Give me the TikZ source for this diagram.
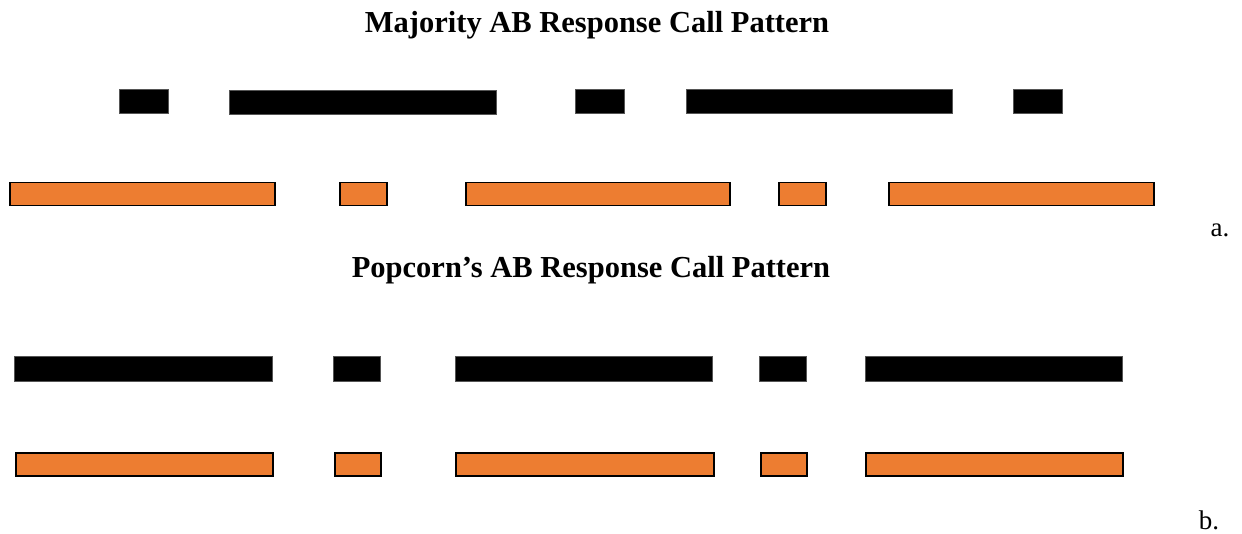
\documentclass[tikz,border=0pt]{standalone}
\usepackage{fontspec}
\setmainfont{Liberation Serif}
\definecolor{barorange}{HTML}{ED7D31}
\definecolor{bargray}{HTML}{555555}
\tikzset{
  blackbar/.style={draw=bargray, line width=0.8pt, fill=black, inner sep=0pt, minimum height=24pt},
  orangebar/.style={draw=black, line width=1.5pt, fill=barorange, inner sep=0pt, minimum height=23pt},
  titletext/.style={font=\fontsize{30.5}{34}\selectfont\bfseries, inner sep=0pt},
  tagtext/.style={font=\fontsize{27}{30}\selectfont, inner sep=0pt}
}
\begin{document}
\begin{tikzpicture}[x=1pt,y=-1pt]
\useasboundingbox (0,0) rectangle (1242,533);
% titles
\node[titletext] (titleA) at (597,25) {Majority AB Response Call Pattern};
\node[titletext] (titleB) at (591,270) {Popcorn’s AB Response Call Pattern};
% labels
\node[tagtext, anchor=base] (tagA) at (1220,236) {a.};
\node[tagtext, anchor=base] (tagB) at (1209,529) {b.};
% row a black
\foreach \n/\a/\b/\y in {a1/119/168/101, a2/229/496/102.5, a3/575/624/101, a4/686/952/101, a5/1013/1062/101}{
  \pgfmathsetmacro\w{\b-\a}
  \node[blackbar, minimum width=\w pt] (\n) at ({(\a+\b)/2},\y) {};
}
% row a orange
\foreach \n/\a/\b in {ao1/10/275, ao2/340/387, ao3/466/730, ao4/779/826, ao5/889/1154}{
  \pgfmathsetmacro\w{\b-\a}
  \node[orangebar, minimum width=\w pt] (\n) at ({(\a+\b)/2},194) {};
}
% row b black
\foreach \n/\a/\b in {b1/14/272, b2/333/380, b3/455/712, b4/759/806, b5/865/1122}{
  \pgfmathsetmacro\w{\b-\a}
  \node[blackbar, minimum width=\w pt, minimum height=25pt] (\n) at ({(\a+\b)/2},368.5) {};
}
% row b orange
\foreach \n/\a/\b in {bo1/16/273, bo2/335/381, bo3/456/714, bo4/761/807, bo5/866/1123}{
  \pgfmathsetmacro\w{\b-\a}
  \node[orangebar, minimum width=\w pt] (\n) at ({(\a+\b)/2},464.5) {};
}
\end{tikzpicture}
\end{document}
